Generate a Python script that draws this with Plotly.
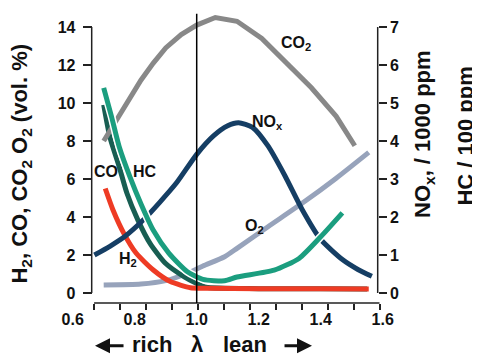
import plotly.graph_objects as go

# ---- data (lambda on x; left axis vol.%; right axis NOx /1000 ppm, HC /100 ppm)
lam_co2 = [0.70, 0.74, 0.78, 0.82, 0.86, 0.90, 0.95, 1.00, 1.06, 1.13, 1.21, 1.29, 1.37, 1.45, 1.51]
co2 = [8.0, 9.1, 10.2, 11.2, 12.1, 12.9, 13.6, 14.1, 14.5, 14.3, 13.4, 12.1, 10.8, 9.3, 7.75]

lam_co = [0.70, 0.72, 0.75, 0.775, 0.81, 0.85, 0.90, 0.96, 1.00, 1.03, 1.20, 1.40, 1.55]
co = [9.9, 8.2, 6.65, 5.25, 3.85, 2.6, 1.55, 0.85, 0.5, 0.3, 0.23, 0.22, 0.21]

lam_hc = [0.70, 0.725, 0.75, 0.785, 0.82, 0.86, 0.91, 0.97, 1.02, 1.09, 1.13, 1.25, 1.33, 1.40, 1.47]
hc = [5.4, 4.65, 3.85, 3.05, 2.35, 1.65, 1.05, 0.56, 0.36, 0.32, 0.42, 0.6, 0.91, 1.48, 2.11]

lam_nox = [0.67, 0.72, 0.77, 0.83, 0.88, 0.935, 1.00, 1.055, 1.10, 1.135, 1.18, 1.23, 1.285, 1.34, 1.40, 1.47, 1.52, 1.565]
nox = [1.0, 1.23, 1.5, 1.94, 2.38, 2.9, 3.65, 4.14, 4.4, 4.48, 4.36, 3.87, 3.08, 2.2, 1.41, 0.88, 0.62, 0.44]

lam_o2 = [0.70, 0.82, 0.90, 0.97, 1.02, 1.09, 1.13, 1.23, 1.34, 1.45, 1.555]
o2 = [0.42, 0.47, 0.65, 1.04, 1.42, 1.91, 2.35, 3.49, 4.72, 6.04, 7.4]

lam_h2 = [0.705, 0.73, 0.765, 0.805, 0.86, 0.915, 0.98, 1.03, 1.20, 1.40, 1.555]
h2 = [5.5, 4.37, 3.14, 2.09, 1.21, 0.6, 0.28, 0.25, 0.23, 0.22, 0.21]

x_ticklabels = [0.6, 0.8, 1.0, 1.2, 1.4, 1.6]
left_ticks = [0, 2, 4, 6, 8, 10, 12, 14]
right_ticks = [0, 1, 2, 3, 4, 5, 6, 7]

# ---- styling / layout helpers
FONT = "Liberation Sans, Arial, Helvetica, sans-serif"
AX = "#222222"
L_POS = 0.0911
R_POS = 0.9684
tick_marks = [0.669 + 0.0837 * k for k in range(12)]

fig = go.Figure()

def add(x, y, color, axis="y", width=5, smooth=True):
    fig.add_trace(go.Scatter(
        x=x, y=y, mode="lines", yaxis=axis, showlegend=False, hoverinfo="skip",
        line=dict(color=color, width=width,
                  shape="spline" if smooth else "linear", smoothing=0.6)))

add(lam_o2, o2, "#97a3bb")
add(lam_nox, nox, "#153e64", axis="y2")
add(lam_co, co, "#185e52")
add(lam_hc, hc, "#ffffff", axis="y2", width=8)
add(lam_hc, hc, "#1b9e7f", axis="y2")
add(lam_h2, h2, "#ee3b24")
add(lam_co2, co2, "#888888", smooth=False)

# dummy trace for the tick-mark axis
fig.add_trace(go.Scatter(x=[None], y=[None], xaxis="x2", showlegend=False, hoverinfo="skip"))

fig.update_layout(
    width=480, height=355,
    margin=dict(l=54, r=100, t=2, b=60, autoexpand=False),
    paper_bgcolor="white", plot_bgcolor="white",
    font=dict(family=FONT, color="#111111"),
    xaxis=dict(range=[0.5655, 1.6171], tickmode="array", tickvals=x_ticklabels,
               ticktext=["%.1f" % v for v in x_ticklabels], ticks="", showline=False,
               showgrid=False, zeroline=False, automargin=False, ticklabelstandoff=5,
               tickfont=dict(size=16, weight="bold", family=FONT)),
    xaxis2=dict(range=[0.5655, 1.6171], overlaying="x", anchor="y", side="bottom",
                tickmode="array", tickvals=tick_marks, showticklabels=False,
                ticks="outside", ticklen=6, tickwidth=1.5, tickcolor=AX, automargin=False,
                showline=False, showgrid=False, zeroline=False),
    yaxis=dict(range=[-0.526, 14.895], anchor="free", position=L_POS, side="left",
               tickmode="array", tickvals=left_ticks, ticks="outside", ticklen=9,
               tickwidth=1.5, tickcolor=AX, showline=False, showgrid=False, zeroline=False,
               automargin=False, ticklabelstandoff=4,
               tickfont=dict(size=16, weight="bold", family=FONT)),
    yaxis2=dict(range=[-0.263, 7.4475], anchor="free", position=R_POS, side="right",
                overlaying="y", tickmode="array", tickvals=right_ticks, ticks="outside",
                ticklen=8, tickwidth=1.5, tickcolor=AX, showline=False, showgrid=False,
                zeroline=False, automargin=False,
                tickfont=dict(size=16, weight="bold", family=FONT)),
)

# spines
fig.add_shape(type="line", xref="paper", yref="y", x0=L_POS, x1=L_POS, y0=0, y1=14,
              line=dict(color=AX, width=1.5))
fig.add_shape(type="line", xref="paper", yref="y2", x0=R_POS, x1=R_POS, y0=0, y1=7,
              line=dict(color=AX, width=1.5))
fig.add_shape(type="line", xref="x", yref="paper", x0=tick_marks[0], x1=tick_marks[-1],
              y0=0, y1=0, line=dict(color=AX, width=1.5))
# lambda = 1 line
fig.add_shape(type="line", xref="x", yref="y", x0=1.0, x1=1.0, y0=-0.526, y1=14.7,
              line=dict(color="#000000", width=1.5), layer="above")

def label(text, x, y, size=16, xref="x", yref="y", angle=0, **kw):
    fig.add_annotation(text=text, x=x, y=y, xref=xref, yref=yref, showarrow=False,
                       xanchor="center", yanchor="middle",
                       textangle=angle, font=dict(size=size, family=FONT, color="#111111",
                                                  weight="bold"), **kw)

label("CO<sub>2</sub>", 1.32, 13.15)
label("NO<sub>x</sub>", 1.227, 9.0)
label("CO", 0.709, 6.37)
label("HC", 0.833, 6.37)
label("H<sub>2</sub>", 0.778, 1.75)
label("O<sub>2</sub>", 1.185, 3.5)

label("H<sub>2</sub>, CO, CO<sub>2</sub> O<sub>2</sub> (vol. %)", -0.1258, 0.476, size=22,
      xref="paper", yref="paper", angle=-90)
label("NO<sub>x</sub>, / 1000 ppm", 1.1104, 0.577, size=22, xref="paper", yref="paper", angle=-90)
label("HC / 100 ppm", 1.2393, 0.568, size=22, xref="paper", yref="paper", angle=-90)

label("rich", 0.855, -0.1425, size=22, yref="paper")
label("λ", 1.0, -0.1425, size=22, yref="paper")
label("lean", 1.157, -0.1425, size=22, yref="paper")

for head, tail in [(0.672, 30), (1.372, -29)]:
    fig.add_annotation(text="", x=head, y=-0.146, xref="x", yref="paper", showarrow=True,
                       ax=tail, ay=0, arrowhead=2, arrowsize=1, arrowwidth=3,
                       arrowcolor="#111111")

fig.write_html("out.html")
